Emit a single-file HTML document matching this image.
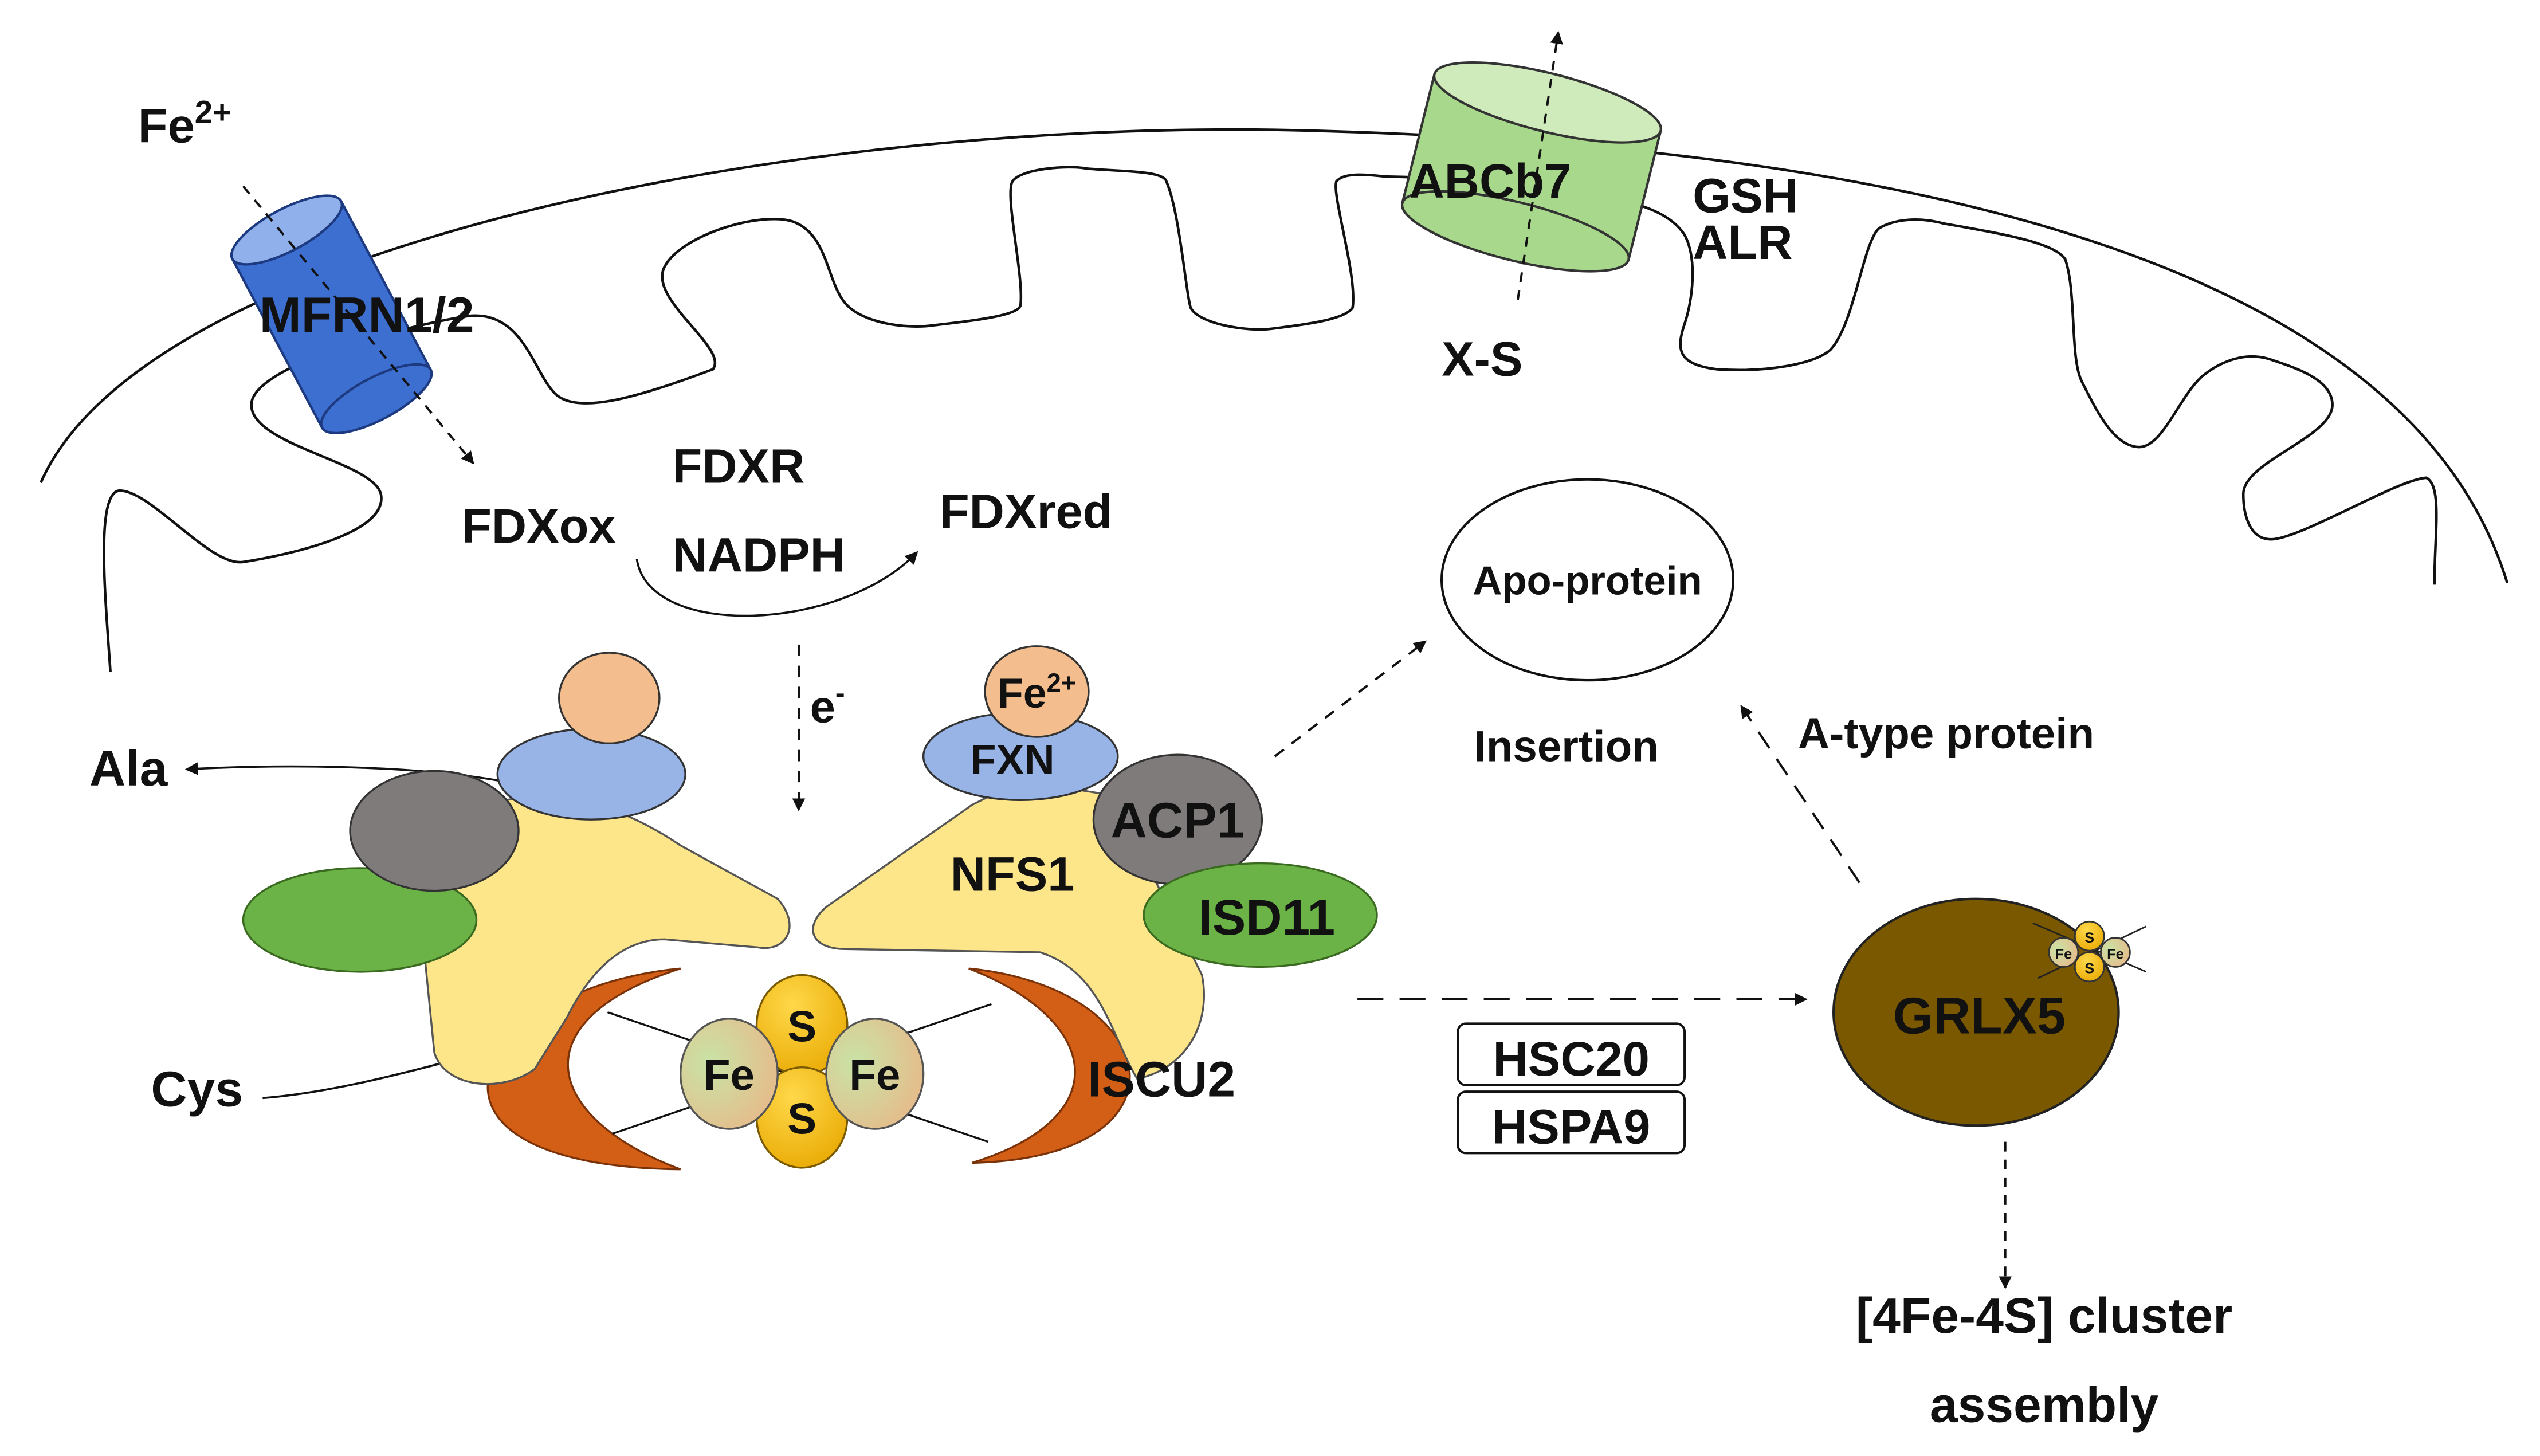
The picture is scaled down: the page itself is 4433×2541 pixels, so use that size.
<!DOCTYPE html>
<html><head><meta charset="utf-8"><style>
html,body{margin:0;padding:0;background:#fff;}
svg{display:block;}
text{font-family:"Liberation Sans",sans-serif;font-weight:bold;fill:#111;}
</style></head><body>
<svg width="4433" height="2541" viewBox="0 0 1568 899" xmlns="http://www.w3.org/2000/svg">
<defs>
<marker id="ah" markerWidth="8" markerHeight="8" refX="7" refY="4" orient="auto" markerUnits="userSpaceOnUse"><path d="M0,0 L8,4 L0,8 Z" fill="#111"/></marker>
<radialGradient id="fe" cx="0.3" cy="0.4" r="0.8"><stop offset="0" stop-color="#c9e3a6"/><stop offset="1" stop-color="#e8b888"/></radialGradient>
<radialGradient id="s" cx="0.4" cy="0.3" r="0.8"><stop offset="0" stop-color="#ffd84a"/><stop offset="1" stop-color="#e8a800"/></radialGradient>
</defs>
<!-- outer membrane -->
<path d="M25,298 C90,150 500,70 820,81 C1200,92 1490,170 1548,360" fill="none" stroke="#111" stroke-width="1.6"/>
<!-- inner membrane -->
<path d="M68,415 C65,370 58,300 75,303 C95,305 130,350 150,347 C175,343 240,330 235,305 C230,285 155,275 155,250 C155,225 255,200 290,195 C325,192 330,235 345,245 C360,255 395,245 440,228 C450,215 400,185 410,165 C420,145 470,130 490,137 C510,145 510,170 520,185 C530,200 560,203 575,201 C600,198 630,195 630,188 C632,170 620,120 625,112 C630,104 660,102 670,104 C690,106 718,105 720,112 C728,130 732,180 735,190 C740,200 770,205 785,203 C800,201 830,198 835,190 C838,170 822,120 825,112 C830,106 845,108 855,109 C900,110 960,112 980,119 C1010,125 1030,130 1040,145 C1048,160 1045,185 1040,200 C1035,215 1035,225 1060,228 C1090,230 1120,225 1130,216 C1145,200 1150,150 1160,141 C1170,135 1185,134 1200,138 C1240,145 1268,150 1275,160 C1282,180 1278,220 1285,235 C1295,255 1305,275 1320,276 C1335,277 1345,245 1360,232 C1375,220 1390,218 1402,222 C1420,228 1440,235 1440,250 C1440,270 1385,285 1385,305 C1385,320 1390,333 1402,333 C1420,333 1480,296 1498,295 C1508,300 1503,330 1503,361" fill="none" stroke="#111" stroke-width="1.6"/>
<!-- MFRN cylinder -->
<g transform="rotate(-28 205 195)">
<rect x="167" y="135" width="76" height="118" fill="#3d6fd0" stroke="#1d3a80" stroke-width="1.5"/>
<ellipse cx="205" cy="253" rx="38" ry="13" fill="#3d6fd0" stroke="#1d3a80" stroke-width="1.5"/>
<ellipse cx="205" cy="135" rx="38" ry="13" fill="#8fb0ea" stroke="#1d3a80" stroke-width="1.5"/>
</g>
<line x1="150" y1="115" x2="292" y2="286" stroke="#111" stroke-width="1.4" stroke-dasharray="6,5" marker-end="url(#ah)"/>
<text x="85" y="88" font-size="30">Fe<tspan font-size="20" dy="-12">2+</tspan></text>
<text x="160" y="205" font-size="31">MFRN1/2</text>
<!-- ABCb7 cylinder -->
<g transform="rotate(14 945 105)">
<rect x="873" y="62" width="144" height="82" fill="#a8d88c" stroke="#333" stroke-width="1.5"/>
<ellipse cx="945" cy="144" rx="72" ry="18" fill="#a8d88c" stroke="#333" stroke-width="1.5"/>
<ellipse cx="945" cy="62" rx="72" ry="18" fill="#cfeabb" stroke="#333" stroke-width="1.5"/>
</g>
<line x1="937" y1="185" x2="962" y2="20" stroke="#111" stroke-width="1.4" stroke-dasharray="6,5" marker-end="url(#ah)"/>
<text x="870" y="122" font-size="30">ABCb7</text>
<text x="1045" y="131" font-size="30">GSH</text>
<text x="1045" y="160" font-size="30">ALR</text>
<text x="890" y="232" font-size="30">X-S</text>
<!-- FDX -->
<text x="285" y="335" font-size="30">FDXox</text>
<text x="415" y="298" font-size="30">FDXR</text>
<text x="415" y="353" font-size="30">NADPH</text>
<text x="580" y="326" font-size="30">FDXred</text>
<path d="M393,345 C400,395 520,390 566,341" fill="none" stroke="#111" stroke-width="1.3" marker-end="url(#ah)"/>
<line x1="493" y1="398" x2="493" y2="500" stroke="#111" stroke-width="1.4" stroke-dasharray="7,6" marker-end="url(#ah)"/>
<text x="500" y="446" font-size="28">e<tspan font-size="18" dy="-12">-</tspan></text>
<!-- Apo -->
<ellipse cx="980" cy="358" rx="90" ry="62" fill="#fff" stroke="#111" stroke-width="1.5"/>
<text x="980" y="367" font-size="25" text-anchor="middle">Apo-protein</text>
<text x="910" y="470" font-size="27">Insertion</text>
<text x="1110" y="462" font-size="27">A-type protein</text>
<line x1="787" y1="467" x2="880" y2="396" stroke="#111" stroke-width="1.4" stroke-dasharray="7,6" marker-end="url(#ah)"/>
<line x1="1148" y1="545" x2="1075" y2="436" stroke="#111" stroke-width="1.4" stroke-dasharray="12,8" marker-end="url(#ah)"/>
<!-- GRLX5 -->
<ellipse cx="1220" cy="625" rx="88" ry="70" fill="#7a5800" stroke="#222" stroke-width="1.5"/>
<text x="1222" y="638" font-size="32" text-anchor="middle">GRLX5</text>
<g stroke="#222" stroke-width="1"><line x1="1255" y1="570" x2="1325" y2="600"/><line x1="1258" y1="604" x2="1325" y2="572"/></g>
<circle cx="1290" cy="578" r="9" fill="url(#s)" stroke="#333"/><circle cx="1290" cy="597" r="9" fill="url(#s)" stroke="#333"/>
<circle cx="1274" cy="588" r="9" fill="url(#fe)" stroke="#333"/><circle cx="1306" cy="588" r="9" fill="url(#fe)" stroke="#333"/>
<text x="1290" y="582" font-size="9" text-anchor="middle">S</text><text x="1290" y="601" font-size="9" text-anchor="middle">S</text>
<text x="1274" y="592" font-size="9" text-anchor="middle">Fe</text><text x="1306" y="592" font-size="9" text-anchor="middle">Fe</text>
<line x1="838" y1="617" x2="1115" y2="617" stroke="#111" stroke-width="1.4" stroke-dasharray="16,10" marker-end="url(#ah)"/>
<rect x="900" y="632" width="140" height="38" rx="5" fill="#fff" stroke="#111" stroke-width="1.4"/>
<rect x="900" y="674" width="140" height="38" rx="5" fill="#fff" stroke="#111" stroke-width="1.4"/>
<text x="970" y="664" font-size="30" text-anchor="middle">HSC20</text>
<text x="970" y="706" font-size="30" text-anchor="middle">HSPA9</text>
<line x1="1238" y1="705" x2="1238" y2="795" stroke="#111" stroke-width="1.4" stroke-dasharray="6,5" marker-end="url(#ah)"/>
<text x="1262" y="823" font-size="31" text-anchor="middle">[4Fe-4S] cluster</text>
<text x="1262" y="878" font-size="31" text-anchor="middle">assembly</text>
<!-- Ala / Cys -->
<path d="M308,482 C250,472 170,472 115,475" fill="none" stroke="#111" stroke-width="1.3" marker-end="url(#ah)"/>
<text x="55" y="485" font-size="31">Ala</text>
<path d="M162,678 C200,675 240,665 278,655" fill="none" stroke="#111" stroke-width="1.3"/>
<text x="93" y="683" font-size="31">Cys</text>
<!-- crescents -->
<path d="M420,598 C290,610 235,720 420,722 C335,690 320,630 420,598 Z" fill="#d35f17" stroke="#7a3208" stroke-width="1.2"/>
<path d="M598,598 C720,610 740,715 600,718 C690,690 680,630 598,598 Z" fill="#d35f17" stroke="#7a3208" stroke-width="1.2"/>
<!-- left yellow -->
<path d="M300,497 C340,485 380,495 420,522 L480,555 C495,572 485,588 468,585 L410,580 C385,580 365,598 350,628 L330,660 C310,675 275,672 268,650 L262,590 C255,550 262,510 300,497 Z" fill="#fde58a" stroke="#555" stroke-width="1.2"/>
<ellipse cx="222" cy="568" rx="72" ry="32" fill="#6cb347" stroke="#3a6a20" stroke-width="1.2"/>
<ellipse cx="268" cy="513" rx="52" ry="37" fill="#7f7b7b" stroke="#333" stroke-width="1.2"/>
<ellipse cx="365" cy="478" rx="58" ry="28" fill="#98b4e6" stroke="#333" stroke-width="1.2"/>
<ellipse cx="376" cy="431" rx="31" ry="28" fill="#f4bd8e" stroke="#333" stroke-width="1.2"/>
<!-- right yellow -->
<path d="M630,482 L680,490 C700,512 712,542 722,562 L742,602 C748,632 732,660 702,666 C686,640 680,600 642,588 L522,586 C500,586 496,572 510,560 L600,497 Z" fill="#fde58a" stroke="#555" stroke-width="1.2"/>
<ellipse cx="630" cy="467" rx="60" ry="27" fill="#98b4e6" stroke="#333" stroke-width="1.2"/>
<ellipse cx="640" cy="427" rx="32" ry="28" fill="#f4bd8e" stroke="#333" stroke-width="1.2"/>
<ellipse cx="727" cy="506" rx="52" ry="40" fill="#7f7b7b" stroke="#333" stroke-width="1.2"/>
<ellipse cx="778" cy="565" rx="72" ry="32" fill="#6cb347" stroke="#3a6a20" stroke-width="1.2"/>
<text x="625" y="478" font-size="26" text-anchor="middle">FXN</text>
<text x="640" y="437" font-size="26" text-anchor="middle">Fe<tspan font-size="16" dy="-10">2+</tspan></text>
<text x="727" y="517" font-size="31" text-anchor="middle">ACP1</text>
<text x="782" y="577" font-size="31" text-anchor="middle">ISD11</text>
<text x="625" y="550" font-size="30" text-anchor="middle">NFS1</text>
<text x="717" y="677" font-size="31" text-anchor="middle">ISCU2</text>
<!-- FeS -->
<g stroke="#111" stroke-width="1.2"><line x1="375" y1="625" x2="610" y2="705"/><line x1="378" y1="700" x2="612" y2="620"/></g>
<ellipse cx="495" cy="633" rx="28" ry="31" fill="url(#s)" stroke="#7a5a00" stroke-width="1.2"/>
<ellipse cx="495" cy="690" rx="28" ry="31" fill="url(#s)" stroke="#7a5a00" stroke-width="1.2"/>
<ellipse cx="450" cy="663" rx="30" ry="34" fill="url(#fe)" stroke="#555" stroke-width="1.2"/>
<ellipse cx="540" cy="663" rx="30" ry="34" fill="url(#fe)" stroke="#555" stroke-width="1.2"/>
<text x="495" y="643" font-size="27" text-anchor="middle">S</text>
<text x="495" y="700" font-size="27" text-anchor="middle">S</text>
<text x="450" y="673" font-size="27" text-anchor="middle">Fe</text>
<text x="540" y="673" font-size="27" text-anchor="middle">Fe</text>
</svg>
</body></html>
